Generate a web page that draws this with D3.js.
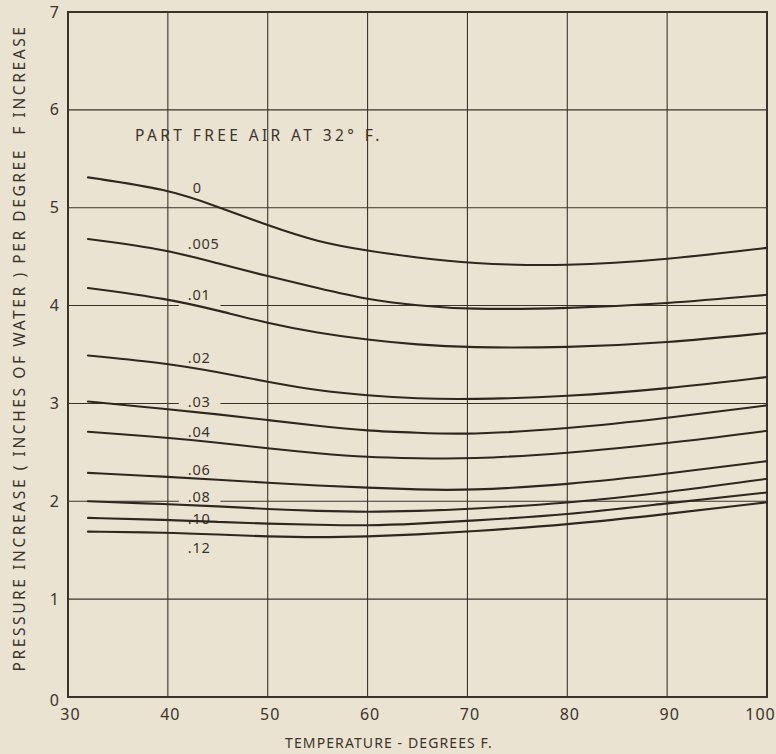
<!DOCTYPE html>
<html>
<head>
<meta charset="utf-8">
<script src="https://cdn.jsdelivr.net/npm/d3@7"></script>
<style>
  html, body { margin: 0; padding: 0; background: #ebe3d2; }
  svg { display: block; }
  text { font-family: "Noto Sans", "DejaVu Sans", sans-serif; fill: #3a332c; }
</style>
</head>
<body>
<svg id="chart" width="776" height="754"></svg>
<script>
// ---- data ----
const temps = [32, 40, 45, 50, 55, 60, 65, 70, 80, 90, 100];
const seriesNames = ["0", ".005", ".01", ".02", ".03", ".04", ".06", ".08", ".10", ".12"];
const s0    = [5.31, 5.19, 5.01, 4.82, 4.65, 4.56, 4.49, 4.43, 4.40, 4.47, 4.59];
const s005  = [4.68, 4.57, 4.43, 4.30, 4.18, 4.06, 4.00, 3.96, 3.97, 4.02, 4.11];
const s01   = [4.18, 4.07, 3.95, 3.82, 3.72, 3.65, 3.60, 3.57, 3.57, 3.62, 3.72];
const s02   = [3.49, 3.41, 3.32, 3.22, 3.13, 3.08, 3.05, 3.04, 3.07, 3.15, 3.27];
const s03   = [3.02, 2.94, 2.89, 2.83, 2.77, 2.72, 2.70, 2.68, 2.74, 2.85, 2.98];
const s04   = [2.71, 2.65, 2.60, 2.54, 2.49, 2.45, 2.44, 2.43, 2.49, 2.59, 2.72];
const s06   = [2.29, 2.25, 2.22, 2.19, 2.16, 2.14, 2.12, 2.11, 2.17, 2.28, 2.41];
const s08   = [2.00, 1.97, 1.95, 1.92, 1.90, 1.89, 1.90, 1.92, 1.98, 2.09, 2.23];
const s10   = [1.83, 1.81, 1.79, 1.77, 1.76, 1.75, 1.77, 1.80, 1.86, 1.98, 2.09];
const s12   = [1.69, 1.68, 1.66, 1.64, 1.63, 1.64, 1.66, 1.69, 1.76, 1.87, 1.99];
const seriesValues = [s0, s005, s01, s02, s03, s04, s06, s08, s10, s12];
// label anchor (temperature, pressure value at text baseline)
const labelX = [42.5, 42.0, 42.0, 42.0, 42.0, 42.0, 42.0, 42.0, 42.0, 42.0];
const labelY = [5.15, 4.58, 4.06, 3.41, 2.96, 2.66, 2.27, 1.99, 1.77, 1.47];
const xTicks = [30, 40, 50, 60, 70, 80, 90, 100];
const yTicks = [0, 1, 2, 3, 4, 5, 6, 7];
const headerText = "PART FREE AIR AT 32° F.";
const xTitle = "TEMPERATURE - DEGREES F.";
const yTitle = "PRESSURE INCREASE ( INCHES OF WATER ) PER DEGREE  F INCREASE";

// ---- layout ----
const margin = {left: 68, top: 12, right: 9, bottom: 57};
const W = 776, H = 754;
const iw = W - margin.left - margin.right;
const ih = H - margin.top - margin.bottom;
const ink = "#3a332c";

const svg = d3.select("#chart");
const g = svg.append("g").attr("transform", `translate(${margin.left},${margin.top})`);
const x = d3.scaleLinear().domain([30, 100]).range([0, iw]);
const y = d3.scaleLinear().domain([0, 7]).range([ih, 0]);

// labels first (to measure gaps)
const labels = g.append("g");
const lab = labels.selectAll("text").data(seriesNames).join("text")
  .attr("x", (d, i) => x(labelX[i]))
  .attr("y", (d, i) => y(labelY[i]))
  .attr("font-size", 14.5)
  .attr("letter-spacing", 0.7)
  .text(d => d);

// gaps in gridlines where label sits on line
const gaps = {};
lab.each(function(d, i) {
  const bb = this.getBBox();
  yTicks.forEach(t => {
    const py = y(t);
    if (py > bb.y && py < bb.y + bb.height + 4) {
      gaps[t] = [bb.x - 9, bb.x + bb.width + 10];
    }
  });
});

// gridlines
const grid = g.insert("g", ":first-child");
xTicks.slice(1, -1).forEach(t => {
  grid.append("line").attr("x1", x(t)).attr("x2", x(t)).attr("y1", 0).attr("y2", ih)
    .attr("stroke", ink).attr("stroke-width", 1.1);
});
yTicks.slice(1, -1).forEach(t => {
  const segs = gaps[t] ? [[0, gaps[t][0]], [gaps[t][1], iw]] : [[0, iw]];
  segs.forEach(s => grid.append("line").attr("x1", s[0]).attr("x2", s[1])
    .attr("y1", y(t)).attr("y2", y(t)).attr("stroke", ink).attr("stroke-width", 1.1));
});

// frame
g.append("rect").attr("x", 0).attr("y", 0).attr("width", iw).attr("height", ih)
  .attr("fill", "none").attr("stroke", ink).attr("stroke-width", 2);

// curves
const line = d3.line().x(d => x(d[0])).y(d => y(d[1])).curve(d3.curveBasis);
g.append("g").selectAll("path").data(seriesValues).join("path")
  .attr("d", vals => line(temps.map((t, i) => [t, vals[i]])))
  .attr("fill", "none").attr("stroke", "#2e2720").attr("stroke-width", 2.1)
  .attr("stroke-linecap", "round");

// axes tick labels
const xAxis = d3.axisBottom(x).tickValues(xTicks).tickSize(0).tickPadding(12).tickFormat(d3.format("d"));
const gx = g.append("g").attr("transform", `translate(0,${ih})`).call(xAxis);
gx.select(".domain").remove();
gx.selectAll("text").attr("font-size", 16).attr("letter-spacing", 1).attr("fill", ink)
  .style("font-family", '"Noto Sans", "DejaVu Sans", sans-serif')
  .attr("dx", d => d === 100 ? -7 : 2);

const yAxis = d3.axisLeft(y).tickValues(yTicks).tickSize(0).tickPadding(9).tickFormat(d3.format("d"));
const gy = g.append("g").call(yAxis);
gy.select(".domain").remove();
gy.selectAll("text").attr("font-size", 16).attr("fill", ink)
  .style("font-family", '"Noto Sans", "DejaVu Sans", sans-serif')
  .attr("dy", d => d === 0 ? "0.5em" : "0.32em");

// header
g.append("text").attr("x", x(36.7)).attr("y", y(5.68)).attr("font-size", 15.5)
  .attr("letter-spacing", 3.4).text(headerText);

// axis titles
svg.append("text").attr("x", 389).attr("y", 748)
  .attr("text-anchor", "middle").attr("font-size", 14).attr("letter-spacing", 1.1).text(xTitle);
svg.append("text").attr("transform", `translate(25,${348}) rotate(-90)`)
  .attr("text-anchor", "middle").attr("font-size", 15.5).attr("letter-spacing", 2.6)
  .attr("xml:space", "preserve").style("white-space", "pre").text(yTitle);
</script>
</body>
</html>
